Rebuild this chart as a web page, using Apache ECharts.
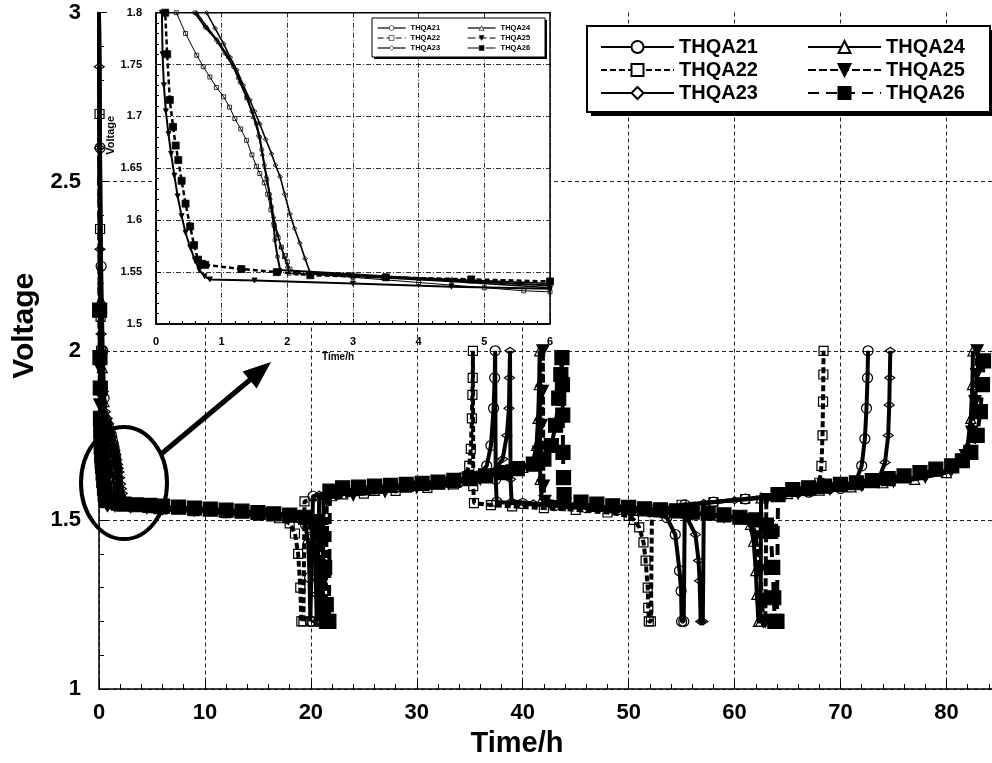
<!DOCTYPE html>
<html><head><meta charset="utf-8">
<script src="https://cdn.jsdelivr.net/npm/echarts@6/dist/echarts.min.js"></script>
<style>html,body{margin:0;padding:0;background:#fff}#c{width:992px;height:763px}</style>
</head><body><div id="c"></div>
<script>
// ---- data (time in h, voltage in V) ----
const seriesNames = ['THQA21','THQA22','THQA23','THQA24','THQA25','THQA26'];

const s21 = [[0,3.0],[0.1,2.6],[0.2,2.25],[0.35,2.0],[0.48,1.86],[0.59,1.8],[0.75,1.786],[0.92,1.774],[1.05,1.761],[1.18,1.748],[1.28,1.733],[1.38,1.719],[1.46,1.705],[1.53,1.693],[1.58,1.68],[1.61,1.668],[1.65,1.653],[1.69,1.639],[1.73,1.625],[1.76,1.613],[1.79,1.597],[1.81,1.581],[1.85,1.565],[1.89,1.552],[3,1.548],[4.5,1.542],[6,1.537],
 [9,1.532],[12,1.527],[16,1.521],[18,1.514],[19,1.505],[19.5,1.485],[19.75,1.43],[19.88,1.33],[19.95,1.2],[20.1,1.2],[20.2,1.57],[22,1.58],[25,1.588],[28,1.595],[31,1.603],[34,1.613],[35.8,1.63],[36.6,1.66],[37.0,1.72],[37.25,1.83],[37.35,1.92],[37.4,2.0],[37.45,1.62],[37.55,1.553],[40,1.548],[43,1.542],[46,1.536],[49,1.53],[52,1.524],[53.6,1.507],[54.4,1.457],[54.8,1.35],[54.95,1.29],[55.0,1.2],[55.2,1.2],[55.3,1.545],[58,1.553],[61,1.562],[64,1.572],[67,1.582],[70,1.593],[71.4,1.61],[72.0,1.66],[72.3,1.74],[72.45,1.83],[72.55,1.92],[72.6,2.0]];

const s22 = [[0,3.0],[0.05,2.7],[0.1,2.36],[0.15,2.1],[0.2,2.0],[0.27,1.88],[0.31,1.8],[0.45,1.78],[0.62,1.759],[0.72,1.748],[0.82,1.738],[0.92,1.728],[1.03,1.719],[1.12,1.709],[1.2,1.698],[1.29,1.688],[1.38,1.677],[1.46,1.663],[1.53,1.652],[1.58,1.645],[1.65,1.636],[1.7,1.625],[1.75,1.61],[1.8,1.595],[1.86,1.583],[1.91,1.574],[1.96,1.566],[2.0,1.56],[2.04,1.553],[2.14,1.549],[3,1.545],[4,1.54],[5,1.535],[5.6,1.532],[6,1.531],
 [9,1.526],[12,1.52],[15,1.513],[17,1.505],[18,1.49],[18.5,1.46],[18.8,1.40],[19.0,1.3],[19.1,1.2],[19.3,1.2],[19.4,1.555],[22,1.57],[25,1.578],[28,1.586],[31,1.595],[33.5,1.605],[34.5,1.625],[34.95,1.66],[35.1,1.71],[35.2,1.8],[35.25,1.87],[35.28,1.92],[35.3,2.0],[35.33,1.6],[35.4,1.55],[37,1.544],[39,1.54],[42,1.535],[45,1.53],[48,1.522],[50,1.512],[50.5,1.50],[51,1.478],[51.4,1.434],[51.6,1.38],[51.8,1.3],[51.85,1.24],[51.9,1.2],[52.1,1.2],[52.2,1.53],[55,1.545],[58,1.553],[61,1.562],[64,1.572],[67,1.585],[68.0,1.61],[68.2,1.66],[68.3,1.75],[68.35,1.85],[68.38,1.93],[68.4,2.0]];

const s23 = [[0,3.0],[0.02,2.84],[0.05,2.6],[0.1,2.3],[0.2,2.05],[0.4,1.88],[0.6,1.82],[0.77,1.8],[0.9,1.785],[1.03,1.77],[1.13,1.757],[1.23,1.745],[1.33,1.73],[1.43,1.716],[1.5,1.705],[1.58,1.693],[1.67,1.678],[1.76,1.664],[1.82,1.653],[1.89,1.642],[1.96,1.625],[2.04,1.606],[2.11,1.592],[2.19,1.578],[2.27,1.563],[2.35,1.549],[3,1.547],[4.5,1.543],[6,1.539],
 [9,1.533],[12,1.528],[16,1.52],[18.5,1.51],[19.8,1.495],[20.2,1.46],[20.4,1.38],[20.5,1.28],[20.55,1.2],[20.7,1.2],[20.8,1.575],[23,1.585],[26,1.593],[29,1.6],[32,1.61],[35,1.622],[37.3,1.645],[38.1,1.68],[38.5,1.75],[38.7,1.83],[38.75,1.92],[38.8,2.0],[38.85,1.62],[38.95,1.555],[41,1.549],[44,1.543],[47,1.537],[50,1.531],[53,1.525],[55.5,1.507],[56.3,1.457],[56.6,1.38],[56.7,1.32],[56.8,1.2],[57.0,1.2],[57.1,1.55],[60,1.558],[63,1.566],[66,1.576],[69,1.587],[72,1.6],[73.6,1.62],[74.2,1.67],[74.5,1.75],[74.6,1.84],[74.65,1.92],[74.7,2.0]];

const s24 = [[0,3.0],[0.18,2.15],[0.32,1.95],[0.47,1.85],[0.62,1.8],[0.78,1.786],[0.95,1.772],[1.1,1.758],[1.25,1.738],[1.38,1.718],[1.48,1.7],[1.56,1.683],[1.62,1.664],[1.68,1.643],[1.74,1.622],[1.79,1.604],[1.85,1.587],[1.9,1.575],[1.95,1.565],[2.0,1.556],[2.03,1.549],[3,1.546],[4.5,1.541],[6,1.535],
 [9,1.53],[12,1.525],[16,1.518],[19,1.51],[20.2,1.49],[20.6,1.44],[20.8,1.35],[20.9,1.2],[21.1,1.2],[21.2,1.565],[23,1.577],[26,1.587],[29,1.597],[32,1.607],[35,1.62],[38,1.64],[40,1.655],[41.0,1.675],[41.3,1.72],[41.45,1.8],[41.55,1.9],[41.6,2.0],[41.65,1.62],[41.8,1.56],[44,1.548],[47,1.54],[50,1.532],[53,1.526],[56,1.52],[59,1.513],[61,1.503],[61.5,1.487],[61.8,1.437],[62.0,1.35],[62.1,1.28],[62.25,1.2],[62.45,1.2],[62.5,1.565],[65,1.578],[68,1.588],[71,1.598],[74,1.61],[77,1.62],[80,1.64],[81.5,1.67],[82.0,1.72],[82.3,1.8],[82.45,1.9],[82.5,2.0]];

const s25 = [[0,3.0],[0.06,1.95],[0.08,1.84],[0.09,1.8],[0.1,1.76],[0.12,1.73],[0.15,1.705],[0.19,1.683],[0.23,1.664],[0.28,1.643],[0.33,1.623],[0.39,1.604],[0.45,1.588],[0.52,1.574],[0.59,1.562],[0.66,1.552],[0.74,1.546],[0.82,1.543],[1.5,1.542],[3,1.539],[4.5,1.536],[6,1.534],
 [9,1.529],[12,1.524],[16,1.517],[19,1.51],[20.5,1.495],[20.9,1.45],[21.1,1.35],[21.2,1.2],[21.4,1.2],[21.5,1.56],[24,1.575],[27,1.585],[30,1.597],[33,1.608],[36,1.622],[39,1.645],[41.0,1.665],[41.5,1.7],[41.75,1.78],[41.85,1.88],[41.9,2.0],[41.95,1.6],[42.1,1.555],[44,1.546],[47,1.538],[50,1.531],[53,1.525],[56,1.518],[59,1.51],[61.5,1.5],[62.0,1.45],[62.4,1.35],[62.6,1.26],[62.7,1.2],[62.9,1.2],[63.0,1.56],[66,1.58],[69,1.592],[72,1.603],[75,1.615],[78,1.628],[80.5,1.65],[81.8,1.69],[82.4,1.76],[82.7,1.85],[82.85,1.93],[82.9,2.0]];

const s26 = [[0,3.0],[0.06,2.12],[0.09,1.98],[0.12,1.89],[0.14,1.8],[0.17,1.76],[0.21,1.716],[0.26,1.69],[0.3,1.672],[0.34,1.658],[0.39,1.638],[0.45,1.616],[0.52,1.594],[0.58,1.576],[0.64,1.562],[0.7,1.558],[0.75,1.557],[1.3,1.553],[1.84,1.55],[2.35,1.547],[3.5,1.545],[4.8,1.543],[6,1.541],
 [7.5,1.538],[9,1.535],[10.5,1.532],[12,1.529],[13.5,1.526],[15,1.522],[16.5,1.518],[18,1.514],[19.5,1.508],[20.5,1.495],[21.0,1.46],[21.3,1.36],[21.45,1.25],[21.5,1.2],[21.7,1.2],[21.8,1.585],[23,1.595],[24.5,1.597],[26,1.6],[27.5,1.602],[29,1.605],[30.5,1.608],[32,1.612],[33.5,1.617],[35,1.622],[36.5,1.63],[38,1.64],[39.5,1.652],[41,1.665],[42,1.68],[42.7,1.72],[43.1,1.78],[43.4,1.86],[43.6,1.93],[43.7,1.98],[43.75,1.9],[43.78,1.81],[43.8,1.70],[43.85,1.625],[43.9,1.575],[45.5,1.553],[47,1.547],[48.5,1.542],[50,1.537],[51.5,1.533],[53,1.53],[54.5,1.527],[56,1.523],[57.5,1.52],[59,1.515],[60.5,1.508],[62,1.5],[63,1.485],[63.4,1.466],[63.6,1.36],[63.7,1.27],[63.8,1.2],[64.0,1.2],[64.1,1.575],[65.5,1.59],[67,1.595],[68.5,1.6],[70,1.605],[71.5,1.61],[73,1.616],[74.5,1.622],[76,1.63],[77.5,1.64],[79,1.65],[80.5,1.66],[81.5,1.675],[82.3,1.7],[82.9,1.75],[83.2,1.82],[83.4,1.9],[83.5,1.97]];

const seriesData = [s21, s22, s23, s24, s25, s26];

// ---- styles ----
const FONT = "'Liberation Sans', Arial, Helvetica, sans-serif";
const look = [
  {symbol:'circle',   size:10,     rot:0,   fill:'transparent', lfill:'#fff', dash:'solid', isize:4,     iw:2,   idash:'solid'},
  {symbol:'rect',     size:9,      rot:0,   fill:'transparent', lfill:'#fff', dash:[6,3],   isize:4,     iw:1,   idash:'solid'},
  {symbol:'diamond',  size:[10,7], rot:0,   fill:'transparent', lfill:'#fff', dash:'solid', isize:[5,4], iw:1.6, idash:'solid'},
  {symbol:'triangle', size:10,     rot:0,   fill:'transparent', lfill:'#fff', dash:'solid', isize:4,     iw:1.4, idash:'solid'},
  {symbol:'triangle', size:12,     rot:180, fill:'#000',        lfill:'#000', dash:[8,3],   isize:5,     iw:2,   idash:'solid'},
  {symbol:'rect',     size:14,     rot:0,   fill:'#000',        lfill:'#000', dash:[11,7],  isize:7,     iw:2.5, idash:[5,3]}
];

// the starting point at the top edge carries no marker
const asItems = (arr) => arr.map(p => (p[1] >= 2.95 ? {value: p, symbol: 'none'} : p));

const series = [];
seriesNames.forEach((n, i) => {
  const L = look[i];
  series.push({
    name: n, type: 'line', xAxisIndex: 0, yAxisIndex: 0, data: asItems(seriesData[i]),
    symbol: L.symbol, symbolSize: L.size, symbolRotate: L.rot, showSymbol: true,
    lineStyle: {color: '#000', width: 4, type: L.dash},
    itemStyle: {color: L.fill, borderColor: '#000', borderWidth: 1.2},
    z: 2 + i, silent: true, animation: false
  });
});
seriesNames.forEach((n, i) => {
  const L = look[i];
  series.push({
    name: n, type: 'line', xAxisIndex: 1, yAxisIndex: 1, data: asItems(seriesData[i]),
    symbol: L.symbol, symbolSize: L.isize, symbolRotate: L.rot, showSymbol: true,
    lineStyle: {color: '#000', width: L.iw, type: L.idash},
    itemStyle: {color: L.fill, borderColor: '#000', borderWidth: 0.8},
    z: 20 + i, silent: true, animation: false
  });
});

const boldTxt = (size) => ({fontSize: size, fontWeight: 'bold', color: '#000', fontFamily: FONT});
const legendItems = (idx) => idx.map(i => ({name: seriesNames[i], itemStyle: {color: look[i].lfill}}));

const option = {
  animation: false,
  backgroundColor: '#fff',
  grid: [
    {left: 99, top: 12.5, right: 0, bottom: 66.5, containLabel: false},
    {left: 156, top: 12.7, width: 394, height: 311.3, show: true, backgroundColor: '#fff', borderColor: '#000', borderWidth: 1.5, z: 10}
  ],
  xAxis: [
    {gridIndex: 0, type: 'value', min: 0, max: 84.3, interval: 10,
     axisLine: {show: true, onZero: false, lineStyle: {color: '#000', width: 1.5}},
     axisTick: {show: true, inside: true, length: 8, lineStyle: {color: '#000', width: 1}},
     minorTick: {show: true, splitNumber: 5, length: 5, lineStyle: {color: '#000', width: 1}},
     axisLabel: Object.assign({showMaxLabel: false, margin: 13}, boldTxt(22)),
     splitLine: {show: true, lineStyle: {type: [4, 3], color: '#222', width: 1}},
     name: 'Time/h', nameLocation: 'middle', nameGap: 32,
     nameTextStyle: Object.assign({padding: [0, 57, 0, 0]}, boldTxt(29))},
    {gridIndex: 1, type: 'value', min: 0, max: 6, interval: 1, z: 11,
     axisLine: {show: true, onZero: false, lineStyle: {color: '#000', width: 1.5}},
     axisTick: {show: true, inside: true, length: 5, lineStyle: {color: '#000'}},
     minorTick: {show: true, splitNumber: 5, length: 3, lineStyle: {color: '#000'}},
     axisLabel: Object.assign({margin: 12}, boldTxt(11)),
     splitLine: {show: true, lineStyle: {type: [5, 2, 1, 2], color: '#000', width: 0.8}},
     name: 'Time/h', nameLocation: 'middle', nameGap: 28,
     nameTextStyle: Object.assign({padding: [0, 30, 0, 0]}, boldTxt(10))}
  ],
  yAxis: [
    {gridIndex: 0, type: 'value', min: 1, max: 3, interval: 0.5,
     axisLine: {show: true, onZero: false, lineStyle: {color: '#000', width: 1.5}},
     axisTick: {show: true, inside: true, length: 8, lineStyle: {color: '#000', width: 1}},
     minorTick: {show: true, splitNumber: 5, length: 5, lineStyle: {color: '#000', width: 1}},
     axisLabel: Object.assign({margin: 18}, boldTxt(22)),
     splitLine: {show: true, showMaxLine: false, lineStyle: {type: [4, 3], color: '#222', width: 1}},
     name: 'Voltage', nameLocation: 'middle', nameGap: 52,
     nameTextStyle: Object.assign({padding: [0, 0, 0, 50]}, boldTxt(30))},
    {gridIndex: 1, type: 'value', min: 1.5, max: 1.8, interval: 0.05, z: 11,
     axisLine: {show: true, onZero: false, lineStyle: {color: '#000', width: 1.5}},
     axisTick: {show: true, inside: true, length: 5, lineStyle: {color: '#000'}},
     minorTick: {show: true, splitNumber: 5, length: 3, lineStyle: {color: '#000'}},
     axisLabel: Object.assign({margin: 14}, boldTxt(11)),
     splitLine: {show: true, lineStyle: {type: [5, 2, 1, 2], color: '#000', width: 0.8}},
     name: 'Voltage', nameLocation: 'middle', nameGap: 37,
     nameTextStyle: Object.assign({padding: [0, 0, 0, 66]}, boldTxt(11))}
  ],
  legend: [
    {data: legendItems([0,1,2]), orient: 'vertical', left: 600, top: 37, itemWidth: 73, itemHeight: 15, itemGap: 3,
     selectedMode: false, z: 50, textStyle: Object.assign({lineHeight: 15}, boldTxt(20)), padding: 0},
    {data: legendItems([3,4,5]), orient: 'vertical', left: 807, top: 37, itemWidth: 73, itemHeight: 15, itemGap: 3,
     selectedMode: false, z: 50, textStyle: Object.assign({lineHeight: 15}, boldTxt(20)), padding: 0},
    {data: legendItems([0,1,2]), orient: 'vertical', left: 377, top: 24, itemWidth: 28, itemHeight: 6, itemGap: 2,
     selectedMode: false, z: 50, lineStyle: {width: 1.2}, itemStyle: {borderWidth: 0.6}, textStyle: Object.assign({lineHeight: 6}, boldTxt(7.5)), padding: 0},
    {data: legendItems([3,4,5]), orient: 'vertical', left: 467, top: 24, itemWidth: 28, itemHeight: 6, itemGap: 2,
     selectedMode: false, z: 50, lineStyle: {width: 1.2}, itemStyle: {borderWidth: 0.6}, textStyle: Object.assign({lineHeight: 6}, boldTxt(7.5)), padding: 0}
  ],
  graphic: [
    {type: 'rect', z: 44, silent: true, shape: {x: 591, y: 30, width: 403, height: 86}, style: {fill: '#000'}},
    {type: 'rect', z: 45, silent: true, shape: {x: 587, y: 26, width: 403, height: 86},
     style: {fill: '#fff', stroke: '#000', lineWidth: 2}},
    {type: 'rect', z: 44, silent: true, shape: {x: 374, y: 20, width: 173, height: 39}, style: {fill: '#000'}},
    {type: 'rect', z: 45, silent: true, shape: {x: 372, y: 18, width: 173, height: 39},
     style: {fill: '#fff', stroke: '#000', lineWidth: 1}},
    {type: 'ellipse', z: 60, silent: true, shape: {cx: 124, cy: 483, rx: 43, ry: 56},
     style: {fill: 'none', stroke: '#000', lineWidth: 4}},
    {type: 'line', z: 60, silent: true, shape: {x1: 160, y1: 455, x2: 251, y2: 379},
     style: {stroke: '#000', lineWidth: 5}},
    {type: 'polygon', z: 60, silent: true, shape: {points: [[271, 362], [256.7, 388.4], [242.5, 371.6]]},
     style: {fill: '#000'}}
  ],
  series: series
};

const chart = echarts.init(document.getElementById('c'), null, {renderer: 'canvas'});
chart.setOption(option);
</script>
</body></html>
